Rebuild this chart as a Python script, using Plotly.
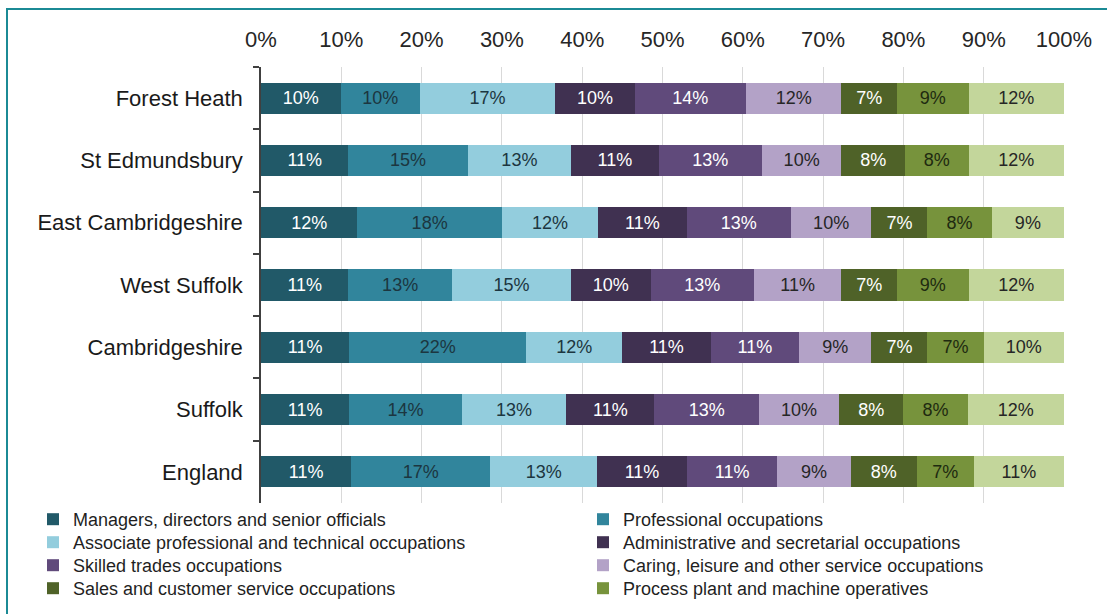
import plotly.graph_objects as go

# Occupation mix by area (% of employed residents)
areas = ["Forest Heath", "St Edmundsbury", "East Cambridgeshire", "West Suffolk",
         "Cambridgeshire", "Suffolk", "England"]

occupations = [
    "Managers, directors and senior officials",
    "Professional occupations",
    "Associate professional and technical occupations",
    "Administrative and secretarial occupations",
    "Skilled trades occupations",
    "Caring, leisure and other service occupations",
    "Sales and customer service occupations",
    "Process plant and machine operatives",
    "Elementary occupations",
]

managers       = [10, 11, 12, 11, 11, 11, 11]
professional   = [10, 15, 18, 13, 22, 14, 17]
associate      = [17, 13, 12, 15, 12, 13, 13]
administrative = [10, 11, 11, 10, 11, 11, 11]
skilled        = [14, 13, 13, 13, 11, 13, 11]
caring         = [12, 10, 10, 11,  9, 10,  9]
sales          = [7,  8,  7,  7,  7,  8,  8]
process        = [9,  8,  8,  9,  7,  8,  7]
elementary     = [12, 12,  9, 12, 10, 12, 11]

series = [managers, professional, associate, administrative, skilled,
          caring, sales, process, elementary]

tick_vals = [0, 10, 20, 30, 40, 50, 60, 70, 80, 90, 100]
tick_text = [f"{v}%" for v in tick_vals]

colors = ["#215968", "#31859c", "#93cddd", "#403151", "#604a7b",
          "#b3a2c7", "#4f6228", "#77933c", "#c3d69b"]
label_colors = ["#ffffff", "#1c3640", "#1c3640", "#ffffff", "#ffffff",
                "#262626", "#ffffff", "#1e2a10", "#262626"]

FONT = "Liberation Sans, Arial, sans-serif"

W, H = 1107, 614
left, right, top, bottom = 261, 1064, 67, 503

def px_x(p):
    return (p - left) / (right - left)

def px_y(p):
    return (bottom - p) / (bottom - top)

# legend grid: two columns, four rows (the last series is not listed)
legend_cols_px = [33, 583]
legend_rows_px = [501, 524, 547, 570]

fig = go.Figure()
layout_legends = {}
for i, (name, vals, col, tcol) in enumerate(zip(occupations, series, colors, label_colors)):
    shown = i < 8
    lg_id = "legend" if i == 0 else f"legend{i + 1}"
    fig.add_trace(go.Bar(
        y=areas,
        x=vals,
        name=name,
        orientation="h",
        marker=dict(color=col, line=dict(width=0)),
        text=[f"{v}%" for v in vals],
        texttemplate="%{text}",
        textposition="inside",
        insidetextanchor="middle",
        textangle=0,
        insidetextfont=dict(family=FONT, size=18, color=tcol),
        showlegend=shown,
        legend=lg_id if shown else "legend",
    ))
    if shown:
        layout_legends[lg_id] = dict(
            xref="paper", yref="paper",
            x=px_x(legend_cols_px[i % 2]),
            y=px_y(legend_rows_px[i // 2]),
            xanchor="left", yanchor="top",
            orientation="v",
            font=dict(size=18, color="#1f1f1f"),
            bgcolor="rgba(0,0,0,0)",
            itemclick=False,
            itemdoubleclick=False,
        )

fig.update_layout(
    width=W, height=H,
    barmode="stack",
    barnorm="percent",
    bargap=0.5,
    paper_bgcolor="white",
    plot_bgcolor="white",
    margin=dict(l=left, r=W - right, t=top, b=H - bottom, pad=0, autoexpand=False),
    font=dict(family=FONT, size=18, color="#262626"),
    xaxis=dict(
        side="top",
        range=[0, 100],
        tickvals=tick_vals,
        ticktext=tick_text,
        tickfont=dict(size=22, color="#262626"),
        ticks="",
        ticklabelstandoff=15,
        showgrid=True,
        gridcolor="#d9d9d9",
        gridwidth=1,
        zeroline=False,
        showline=False,
        automargin=False,
        fixedrange=True,
    ),
    yaxis=dict(
        autorange="reversed",
        tickfont=dict(size=22, color="#1a1a1a"),
        showline=True,
        linecolor="#404040",
        linewidth=1.5,
        ticks="outside",
        tickson="boundaries",
        ticklen=6,
        tickcolor="#404040",
        tickwidth=1.5,
        ticklabelstandoff=12,
        showgrid=False,
        zeroline=False,
        automargin=False,
        fixedrange=True,
    ),
    shapes=[dict(
        type="rect", xref="paper", yref="paper",
        x0=px_x(7), x1=px_x(1120), y0=px_y(9), y1=px_y(630),
        line=dict(color="#1b8a95", width=2),
        fillcolor="rgba(0,0,0,0)",
        layer="above",
    )],
    **layout_legends,
)

fig.write_html("out.html")
